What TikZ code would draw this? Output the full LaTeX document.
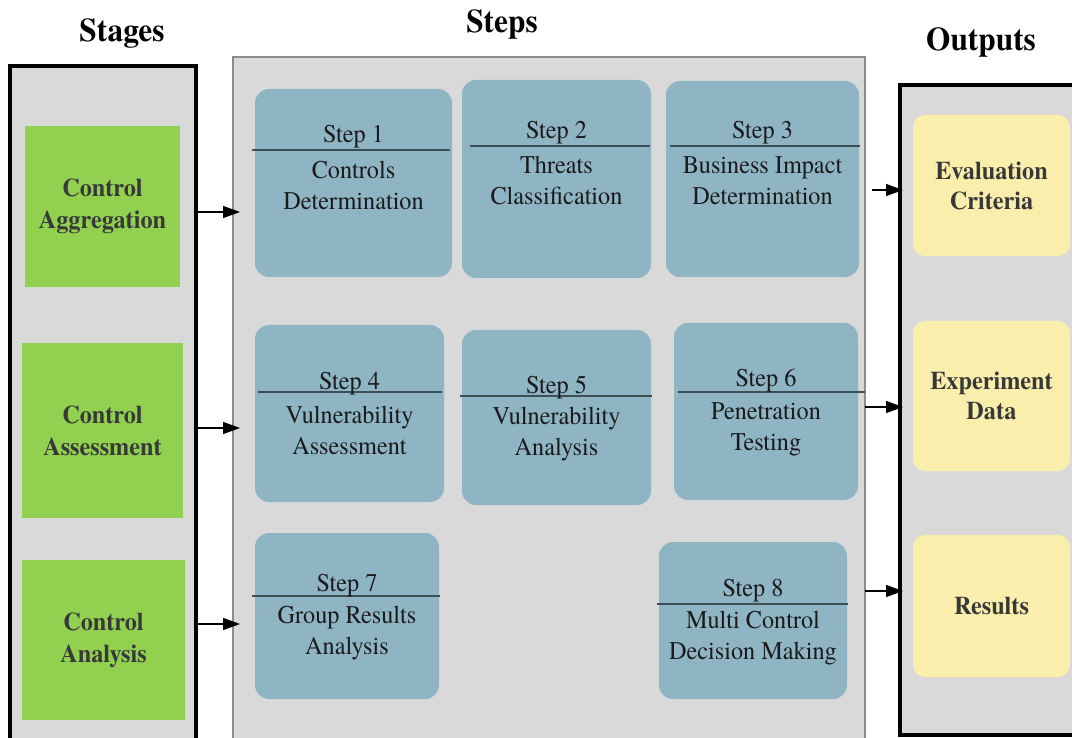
\documentclass[tikz,border=0pt]{standalone}
\usepackage{fontspec}
\setmainfont{TeX Gyre Termes}[FakeStretch=0.95]
\usetikzlibrary{arrows.meta}
\definecolor{bggray}{HTML}{D9D9D9}
\definecolor{stepfill}{HTML}{8FB4C4}
\definecolor{stagegreen}{HTML}{92D050}
\definecolor{outyellow}{HTML}{FAEEAC}
\definecolor{framegray}{HTML}{8C8C8C}
\definecolor{sepcol}{HTML}{3E4E55}
\definecolor{txtdark}{HTML}{1A1A1A}
\definecolor{txtbold}{HTML}{383838}
\begin{document}
\begin{tikzpicture}[x=1pt,y=-1pt,
  container/.style={fill=bggray, anchor=north west, inner sep=0pt, outer sep=0pt},
  stepbox/.style={fill=stepfill, rounded corners=14pt, inner sep=0pt, outer sep=0pt},
  stagebox/.style={fill=stagegreen, inner sep=0pt, outer sep=0pt, align=center, text=txtbold,
                   font=\bfseries\fontsize{25.5}{32}\selectfont},
  outbox/.style={fill=outyellow, rounded corners=12pt, inner sep=0pt, outer sep=0pt, align=center, text=txtbold,
                 font=\bfseries\fontsize{25.5}{30}\selectfont},
  steptext/.style={inner sep=0pt, align=center, text=txtdark, font=\fontsize{25.5}{31}\selectfont},
  title/.style={inner sep=0pt, text=black, font=\bfseries\fontsize{33}{38}\selectfont},
  sepline/.style={draw=sepcol, line width=1.6pt},
  arr/.style={draw=black, line width=1.4pt, -{Triangle[length=17pt,width=12pt]}}
]
\useasboundingbox (0,0) rectangle (1072,738);
\clip (0,0) rectangle (1072,738);
\fill[white] (0,0) rectangle (1072,738);

% titles
\node[title] (tstages) at (122,33) {Stages};
\node[title] (tsteps) at (502,24) {Steps};
\node[title] (touts) at (981,42) {Outputs};

% containers
\node[container, draw=black, line width=3.5pt, minimum width=186pt, minimum height=734pt] (stg) at (10,66) {};
\node[container, draw=framegray, line width=1.6pt, minimum width=632pt, minimum height=734pt] (stp) at (233,57) {};
\node[container, draw=black, line width=4pt, minimum width=200pt, minimum height=650pt] (out) at (900,85) {};

% stages
\node[stagebox, minimum width=155pt, minimum height=161pt] (g1) at (102.5,206.5) {Control\\Aggregation};
\node[stagebox, minimum width=161pt, minimum height=175pt] (g2) at (102.5,430.5) {Control\\Assessment};
\node[stagebox, minimum width=163pt, minimum height=160pt] (g3) at (103.5,640) {Control\\Analysis};

% outputs
\node[outbox, minimum width=157pt, minimum height=141pt] (o1) at (991.5,185.5) {Evaluation\\Criteria};
\node[outbox, minimum width=157pt, minimum height=150pt] (o2) at (991.5,396) {Experiment\\Data};
\node[outbox, minimum width=157pt, minimum height=142pt] (o3) at (991.5,606) {Results};

% steps
\node[stepbox, minimum width=197pt, minimum height=188pt] (s1) at (353.5,183) {};
\node[stepbox, minimum width=189pt, minimum height=198pt] (s2) at (556.5,179) {};
\node[stepbox, minimum width=193pt, minimum height=196pt] (s3) at (762.5,179) {};
\node[stepbox, minimum width=189pt, minimum height=177pt] (s4) at (349.5,413.5) {};
\node[stepbox, minimum width=189pt, minimum height=175pt] (s5) at (556.5,417.5) {};
\node[stepbox, minimum width=184pt, minimum height=177pt] (s6) at (766,411.5) {};
\node[stepbox, minimum width=184pt, minimum height=166pt] (s7) at (347,616) {};
\node[stepbox, minimum width=188pt, minimum height=157pt] (s8) at (753,620.5) {};

% separator lines
\draw[sepline] (252,150) -- (450,150);
\draw[sepline] (470,146) -- (650,146);
\draw[sepline] (670,146) -- (860,146);
\draw[sepline] (258,392) -- (442,392);
\draw[sepline] (460,396) -- (652,396);
\draw[sepline] (678,392) -- (865,392);
\draw[sepline] (252,596) -- (440,596);
\draw[sepline] (657,604) -- (848,604);

% step texts
\node[steptext] (h1) at (353.5,137) {Step 1};
\node[steptext] (b1) at (353.5,185) {Controls\\Determination};
\node[steptext] (h2) at (556.5,133) {Step 2};
\node[steptext] (b2) at (556.5,180.5) {Threats\\Classification};
\node[steptext] (h3) at (762.5,133) {Step 3};
\node[steptext] (b3) at (762.5,180.5) {Business Impact\\Determination};
\node[steptext] (h4) at (349.5,384) {Step 4};
\node[steptext] (b4) at (349.5,430.5) {Vulnerability\\Assessment};
\node[steptext] (h5) at (556.5,387) {Step 5};
\node[steptext] (b5) at (556.5,434.5) {Vulnerability\\Analysis};
\node[steptext] (h6) at (766,381) {Step 6};
\node[steptext] (b6) at (766,429) {Penetration\\Testing};
\node[steptext] (h7) at (347,586) {Step 7};
\node[steptext] (b7) at (347,633.5) {Group Results\\Analysis};
\node[steptext] (h8) at (753,591) {Step 8};
\node[steptext] (b8) at (753,638) {Multi Control\\Decision Making};

% arrows stages -> steps
\coordinate (a1) at (240,212);
\coordinate (a2) at (240,428);
\coordinate (a3) at (240,624);
\draw[arr] (stg.east |- a1) -- (a1);
\draw[arr] (stg.east |- a2) -- (a2);
\draw[arr] (stg.east |- a3) -- (a3);

% arrows steps -> outputs
\coordinate (c1s) at (872,190);
\coordinate (c1) at (903,190);
\coordinate (c2) at (903,407);
\coordinate (c3) at (903,591);
\draw[arr] (c1s) -- (c1);
\draw[arr] (stp.east |- c2) -- (c2);
\draw[arr] (stp.east |- c3) -- (c3);
\end{tikzpicture}
\end{document}
